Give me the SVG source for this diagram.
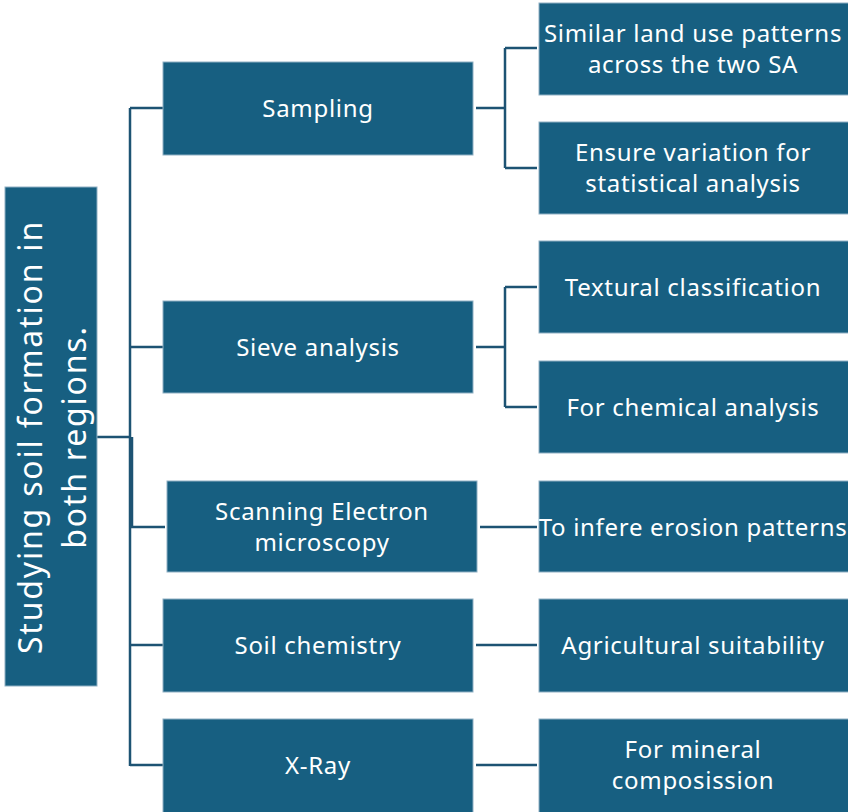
<svg xmlns="http://www.w3.org/2000/svg" width="848" height="812" viewBox="0 0 848 812">
<style>
.box{fill:#175f81;stroke:#8fb0c3;stroke-width:1}
.t{font-family:"Noto Sans","Open Sans","Liberation Sans",sans-serif;font-size:24px;letter-spacing:0.7px;fill:#ffffff;text-anchor:middle;dominant-baseline:central}
.rt{font-family:"Noto Sans","Open Sans","Liberation Sans",sans-serif;font-size:32px;letter-spacing:1.8px;fill:#ffffff;text-anchor:middle;dominant-baseline:central}
.c{fill:none;stroke:#1d5373;stroke-width:2.5}
</style>
<rect width="848" height="812" fill="#ffffff"/>
<g id="connectors">
<path class="c" d="M97,437 H131 M130,108 V766 M130,108 H163 M130,347 H163 M132,437 V527 H165 M130,645 H163 M130,765 H163"/>
<path class="c" d="M476,108 H505 M505,48 V168 M505,48 H537 M505,168 H537"/>
<path class="c" d="M476,347 H505 M505,287 V407 M505,287 H537 M505,407 H537"/>
<path class="c" d="M480,527 H537 M476,645 H537 M476,765 H537"/>
</g>
<g id="root">
<rect class="box" x="5" y="187" width="92" height="499"/>
<text class="rt" transform="translate(51,437) rotate(-90)"><tspan x="0" y="-22">Studying soil formation in</tspan><tspan x="0" y="22">both regions.</tspan></text>
</g>
<g id="sampling">
<rect class="box" x="163" y="62" width="310" height="93"/>
<text class="t" x="318" y="107">Sampling</text>
</g>
<g id="sieve">
<rect class="box" x="163" y="301" width="310" height="92"/>
<text class="t" x="318" y="346">Sieve analysis</text>
</g>
<g id="sem">
<rect class="box" x="167" y="481" width="310" height="91"/>
<text class="t" x="322" y="510">Scanning Electron</text>
<text class="t" x="322" y="541">microscopy</text>
</g>
<g id="soilchem">
<rect class="box" x="163" y="599" width="310" height="93"/>
<text class="t" x="318" y="644">Soil chemistry</text>
</g>
<g id="xray">
<rect class="box" x="163" y="719" width="310" height="94"/>
<text class="t" x="318" y="764">X-Ray</text>
</g>
<g id="similar">
<rect class="box" x="539" y="3" width="310" height="92"/>
<text class="t" x="693" y="32">Similar land use patterns</text>
<text class="t" x="693" y="63">across the two SA</text>
</g>
<g id="ensure">
<rect class="box" x="539" y="122" width="310" height="92"/>
<text class="t" x="693" y="151">Ensure variation for</text>
<text class="t" x="693" y="182">statistical analysis</text>
</g>
<g id="textural">
<rect class="box" x="539" y="241" width="310" height="92"/>
<text class="t" x="693" y="286">Textural classification</text>
</g>
<g id="chemical">
<rect class="box" x="539" y="361" width="310" height="92"/>
<text class="t" x="693" y="406">For chemical  analysis</text>
</g>
<g id="erosion">
<rect class="box" x="539" y="481" width="310" height="91"/>
<text class="t" x="693" y="526">To infere erosion patterns</text>
</g>
<g id="agri">
<rect class="box" x="539" y="599" width="310" height="93"/>
<text class="t" x="693" y="644">Agricultural  suitability</text>
</g>
<g id="mineral">
<rect class="box" x="539" y="719" width="310" height="94"/>
<text class="t" x="693" y="748">For mineral</text>
<text class="t" x="693" y="779">composission</text>
</g>
</svg>
